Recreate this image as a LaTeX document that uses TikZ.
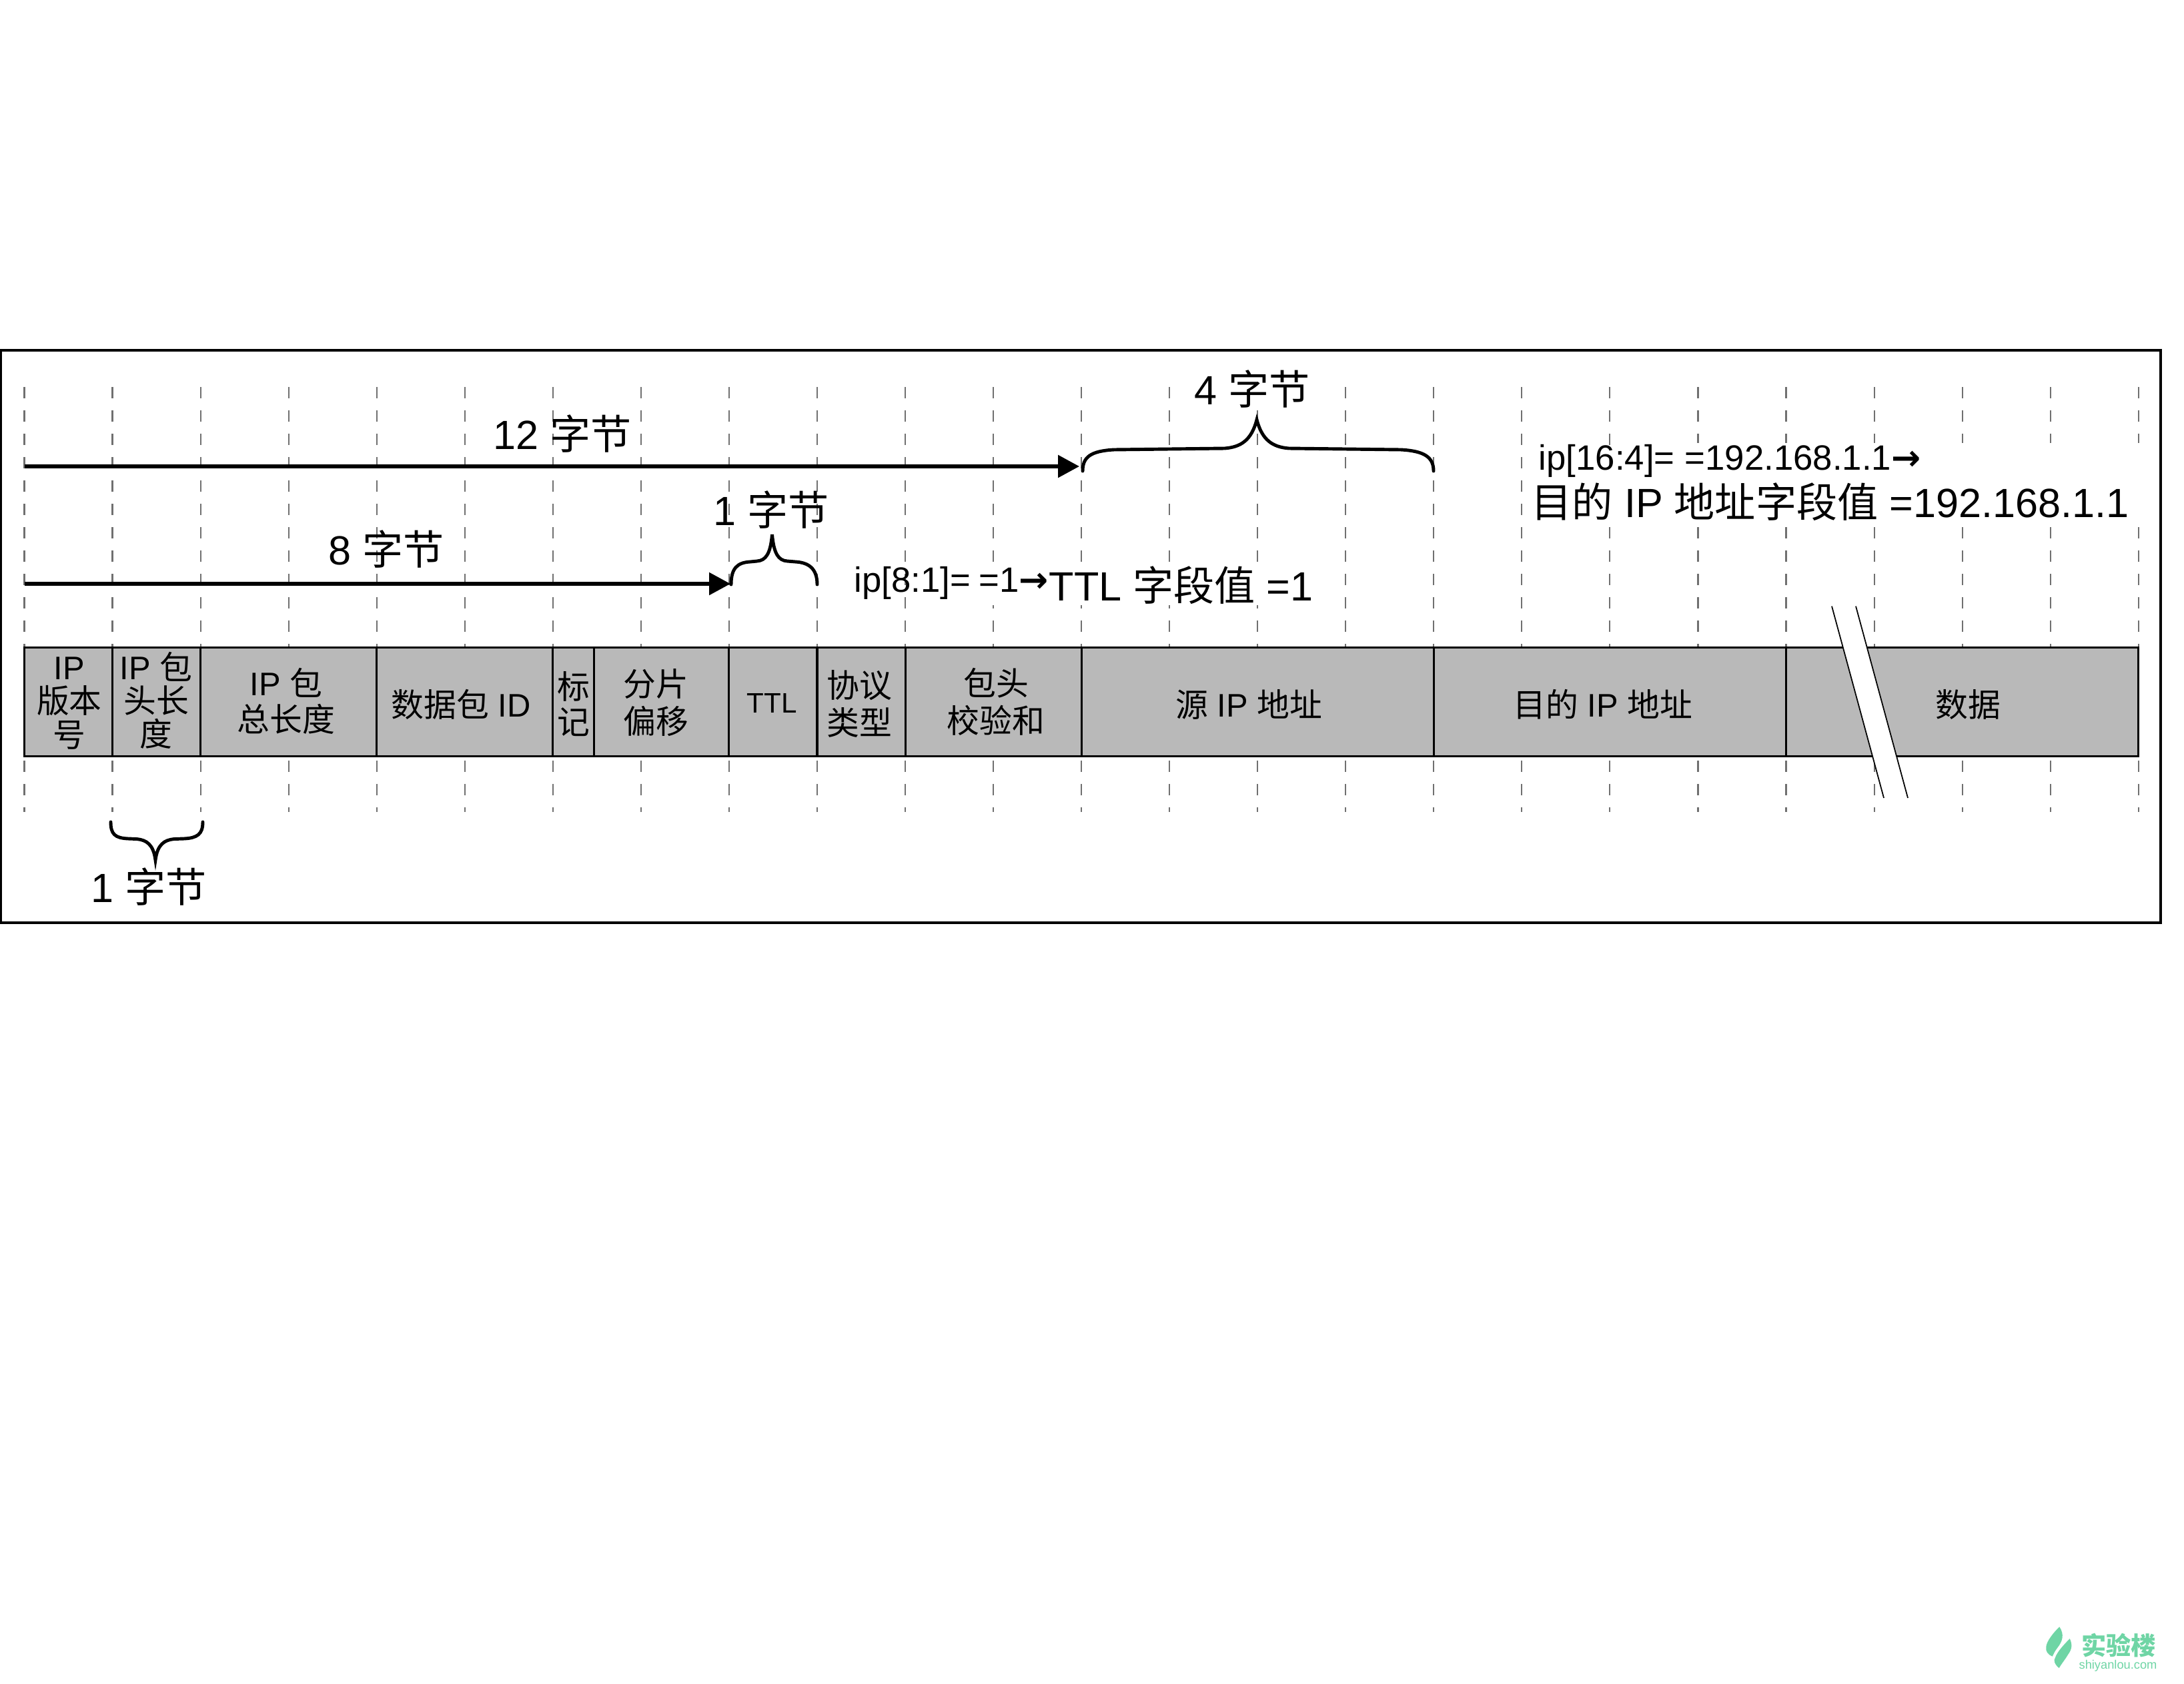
\documentclass[tikz,border=0pt]{standalone}
\usepackage{fontspec}
\setmainfont{Liberation Sans}
\newfontfamily\cjk{Noto Sans CJK SC}
\newfontfamily\arrowfont{DejaVu Sans}
\newcommand{\zh}[1]{{\cjk #1}}
\newcommand{\rarr}{{\arrowfont\bfseries →}}
\usetikzlibrary{arrows.meta}
\definecolor{cellgray}{HTML}{B9B9B9}
\definecolor{griddark}{HTML}{707070}
\definecolor{leafgreen}{HTML}{6FD5A5}
\tikzset{
  griddash/.style={draw=griddark,line width=0.6pt,dash pattern=on 0.17cm off 0.18cm},
  cell/.style={draw=black,fill=cellgray,line width=0.85pt,anchor=west,minimum height=1.634cm,
    inner sep=0pt,outer sep=0pt},
  celltext/.style={inner sep=0pt,align=center,font=\fontsize{13.9}{15.2}\selectfont},
  celltextwide/.style={inner sep=0pt,align=center,font=\fontsize{13.9}{16}\selectfont},
  celltextnarrow/.style={inner sep=0pt,align=center,font=\fontsize{13.9}{14.3}\selectfont},
  bytelabel/.style={inner sep=0pt,font=\fontsize{17.4}{20}\selectfont},
  bytearrow/.style={line width=1.6pt,-{Triangle[length=0.32cm,width=0.33cm]}},
  bytebrace/.style={line width=1.4pt,line cap=round},
  mask/.style={fill=white,draw=none},
  query/.style={inner sep=0pt,anchor=west,font=\fontsize{15}{17}\selectfont},
}
\begin{document}
\begin{tikzpicture}
  \useasboundingbox (0,0) rectangle (32.74,-25.23);
  % outer frame
  \draw[line width=0.9pt] (0.015,-5.25) rectangle (32.39,-13.83);
  % byte grid
  \foreach \k in {0,...,24}
    \draw[griddash] ({0.365+1.3205*\k},-5.80) -- ({0.365+1.3205*\k},-12.17);
  % text backgrounds
  \path[mask] (14.1,-8.44) rectangle (19.70,-9.07);
  \path[mask] (24.16,-6.635) rectangle (32.30,-7.87);
  \path[mask] (22.86,-7.18) rectangle (32.30,-7.87);
  % header fields
  \node[cell,minimum width=1.3205cm] (ver) at (0.365,-10.52) {};
  \node[cell,minimum width=1.3205cm] (hlen) at (1.6855,-10.52) {};
  \node[cell,minimum width=2.641cm] (totlen) at (3.006,-10.52) {};
  \node[cell,minimum width=2.641cm] (pktid) at (5.647,-10.52) {};
  \node[cell,minimum width=0.612cm] (flag) at (8.288,-10.52) {};
  \node[cell,minimum width=2.029cm] (frag) at (8.90,-10.52) {};
  \node[cell,minimum width=1.3205cm] (ttl) at (10.929,-10.52) {};
  \node[cell,minimum width=1.3205cm] (proto) at (12.25,-10.52) {};
  \node[cell,minimum width=2.641cm] (csum) at (13.57,-10.52) {};
  \node[cell,minimum width=5.282cm] (src) at (16.211,-10.52) {};
  \node[cell,minimum width=5.282cm] (dst) at (21.493,-10.52) {};
  \node[cell,minimum width=5.282cm] (payload) at (26.775,-10.52) {};
  % field names
  \node[celltextnarrow] (vertext) at (1.04,-10.54) {IP\\\zh{版本}\\\zh{号}};
  \node[celltextnarrow] (hlentext) at (2.34,-10.50) {IP \zh{包}\\\zh{头长}\\\zh{度}};
  \node[celltext] (totlentext) at (4.29,-10.51) {IP \zh{包}\\\zh{总长度}};
  \node[celltext] (pktidtext) at (6.91,-10.56) {\zh{数据包} ID};
  \node[celltext] (flagtext) at (8.60,-10.55) {\zh{标}\\\zh{记}};
  \node[celltextwide] (fragtext) at (9.83,-10.53) {\zh{分片}\\\zh{偏移}};
  \node[celltext,font=\fontsize{12}{14}\selectfont] (ttltext) at (11.57,-10.54) {TTL};
  \node[celltextwide] (prototext) at (12.88,-10.55) {\zh{协议}\\\zh{类型}};
  \node[celltextwide] (csumtext) at (14.93,-10.52) {\zh{包头}\\\zh{校验和}};
  \node[celltext] (srctext) at (18.72,-10.56) {\zh{源} IP \zh{地址}};
  \node[celltext] (dsttext) at (24.03,-10.56) {\zh{目的} IP \zh{地址}};
  \node[celltext] (payloadtext) at (29.50,-10.56) {\zh{数据}};
  % break in the data field
  \path[mask] (27.46,-9.086) -- (27.82,-9.086) -- (28.60,-11.96) -- (28.24,-11.96) -- cycle;
  \draw[line width=0.5pt] (27.46,-9.086) -- (28.24,-11.96);
  \draw[line width=0.5pt] (27.82,-9.086) -- (28.60,-11.96);
  % offsets
  \coordinate (start12) at (0.365,-6.99);
  \coordinate (end12) at (16.18,-6.99);
  \coordinate (start8) at (0.365,-8.75);
  \coordinate (end8) at (10.95,-8.75);
  \draw[bytearrow] (start12) -- (end12);
  \draw[bytearrow] (start8) -- (end8);
  % braces
  \draw[bytebrace] (16.23,-7.06) .. controls (16.23,-6.85) and (16.35,-6.76) .. (16.70,-6.74)
    -- (18.36,-6.72) .. controls (18.60,-6.70) and (18.76,-6.60) .. (18.84,-6.29)
    .. controls (18.92,-6.60) and (19.08,-6.70) .. (19.32,-6.72)
    -- (21.00,-6.74) .. controls (21.35,-6.76) and (21.49,-6.85) .. (21.49,-7.06);
  \draw[bytebrace] (10.96,-8.76) .. controls (10.96,-8.52) and (11.05,-8.43) .. (11.25,-8.42)
    -- (11.35,-8.41) .. controls (11.48,-8.40) and (11.55,-8.30) .. (11.575,-8.01)
    .. controls (11.60,-8.30) and (11.67,-8.40) .. (11.80,-8.41)
    -- (11.92,-8.42) .. controls (12.12,-8.43) and (12.25,-8.52) .. (12.25,-8.76);
  \draw[bytebrace] (1.66,-12.32) .. controls (1.66,-12.50) and (1.72,-12.56) .. (1.92,-12.57)
    -- (2.05,-12.575) .. controls (2.20,-12.59) and (2.30,-12.66) .. (2.33,-12.89)
    .. controls (2.36,-12.66) and (2.46,-12.59) .. (2.61,-12.575)
    -- (2.76,-12.57) .. controls (2.96,-12.56) and (3.04,-12.50) .. (3.04,-12.32);
  % labels
  \node[bytelabel] (l12) at (8.43,-6.50) {12 \zh{字节}};
  \node[bytelabel] (l8) at (5.79,-8.23) {8 \zh{字节}};
  \node[bytelabel] (l1top) at (11.56,-7.64) {1 \zh{字节}};
  \node[bytelabel,fill=white] (l4) at (18.77,-5.83) {4 \zh{字节}};
  \node[bytelabel] (l1low) at (2.23,-13.29) {1 \zh{字节}};
  % filter expressions
  \node[query] (q8) at (12.80,-8.74) {ip[8:1]=\kern3.5pt=1\rarr};
  \node[bytelabel,anchor=west] (v8) at (15.72,-8.77) {TTL \zh{字段值} =1};
  \node[query] (q16) at (23.06,-6.91) {ip[16:4]=\kern4.4pt=192.168.1.1\rarr};
  \node[bytelabel,anchor=west] (v16) at (22.95,-7.52) {\zh{目的} IP \zh{地址字段值} =192.168.1.1};
  % watermark
  \fill[leafgreen] (30.873,-24.383) .. controls (30.95,-24.50) and (30.92,-24.60) .. (30.84,-24.70)
    .. controls (30.80,-24.75) and (30.78,-24.80) .. (30.767,-24.827)
    .. controls (30.70,-24.80) and (30.66,-24.75) .. (30.673,-24.68)
    .. controls (30.68,-24.60) and (30.78,-24.47) .. (30.873,-24.383) -- cycle;
  \fill[leafgreen] (31.027,-24.56) .. controls (31.07,-24.65) and (31.06,-24.72) .. (31.00,-24.80)
    .. controls (30.96,-24.87) and (30.90,-24.94) .. (30.867,-25.00)
    .. controls (30.80,-24.95) and (30.78,-24.88) .. (30.807,-24.85)
    .. controls (30.84,-24.75) and (30.95,-24.64) .. (31.027,-24.56) -- cycle;
  \node[text=leafgreen,inner sep=0pt,font=\fontsize{10.6}{12}\selectfont\bfseries] (wmzh) at (31.76,-24.66) {\zh{实验楼}};
  \node[text=leafgreen,inner sep=0pt,font=\fontsize{5.2}{7}\selectfont] (wmen) at (31.75,-24.97) {shiyanlou.com};
\end{tikzpicture}
\end{document}
